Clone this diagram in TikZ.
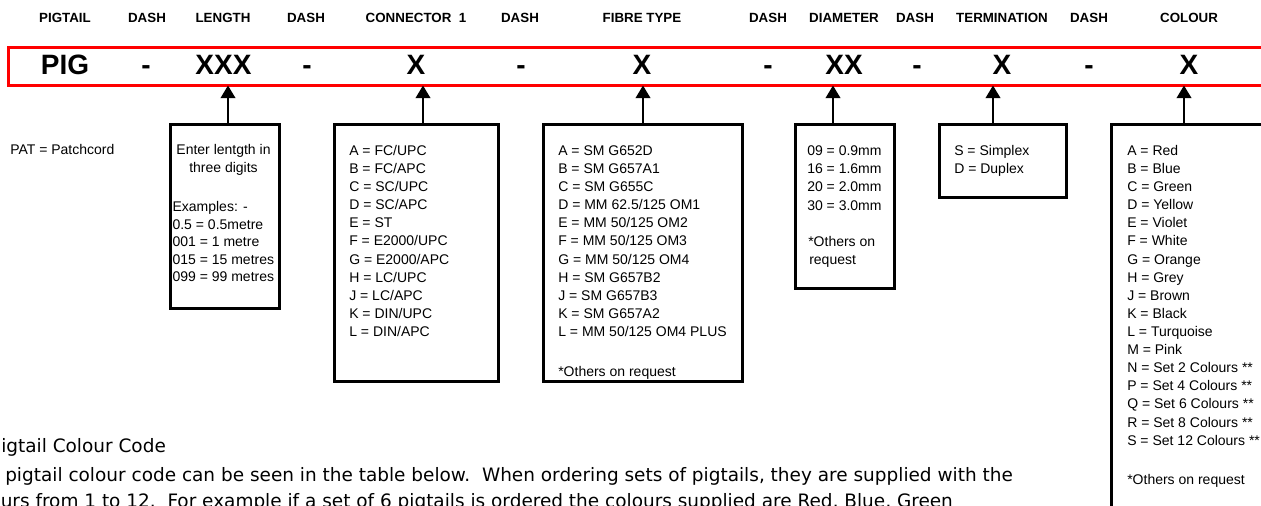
\documentclass[tikz,border=0pt]{standalone}
\usepackage{fontspec}
\setmainfont{Liberation Sans}
\newfontfamily\dvfont{DejaVu Sans}
\usetikzlibrary{arrows.meta}
\begin{document}
\begin{tikzpicture}[x=0.75pt,y=-0.75pt,
  hdr/.style={font=\bfseries\fontsize{10}{12}\selectfont, inner sep=0pt, anchor=base},
  codetxt/.style={font=\bfseries\fontsize{21}{24}\selectfont, inner sep=0pt, anchor=base},
  box/.style={draw, line width=2pt, anchor=north west, inner sep=0pt},
  body/.style={font=\fontsize{10.5}{13.6}\selectfont, inner sep=0pt, anchor=base west},
  bodyc/.style={font=\fontsize{10.5}{13.6}\selectfont, inner sep=0pt, anchor=base},
  arr/.style={line width=1.5pt, -{Triangle[width=11pt,length=9.5pt]}},
  para/.style={font=\dvfont\fontsize{13.85}{16}\selectfont, inner sep=0pt, anchor=base west}
]
\useasboundingbox (0,0) rectangle (1261,506);
\clip (0,0) rectangle (1261,506);

% header labels
\node[hdr] (h1) at (65,23) {PIGTAIL};
\node[hdr] (h2) at (147,23) {DASH};
\node[hdr] (h3) at (223,23) {LENGTH};
\node[hdr] (h4) at (306,23) {DASH};
\node[hdr] (h5) at (416,23) {CONNECTOR\ \ 1};
\node[hdr] (h6) at (520,23) {DASH};
\node[hdr] (h7) at (642,23) {FIBRE TYPE};
\node[hdr] (h8) at (768,23) {DASH};
\node[hdr] (h9) at (844,23) {DIAMETER};
\node[hdr] (h10) at (915,23) {DASH};
\node[hdr] (h11) at (1002,23) {TERMINATION};
\node[hdr] (h12) at (1089,23) {DASH};
\node[hdr] (h13) at (1189,23) {COLOUR};

% red code bar
\node[draw=red, line width=2.25pt, anchor=north west, inner sep=0pt,
      minimum width=951pt, minimum height=28.5pt] (code) at (7,46) {};
\node[codetxt] (c1) at (65,75) {PIG};
\node[codetxt] (c2) at (146,75) {-};
\node[codetxt] (c3) at (223.5,75) {XXX};
\node[codetxt] (c4) at (307,75) {-};
\node[codetxt] (c5) at (416,75) {X};
\node[codetxt] (c6) at (521,75) {-};
\node[codetxt] (c7) at (642,75) {X};
\node[codetxt] (c8) at (768,75) {-};
\node[codetxt] (c9) at (844,75) {XX};
\node[codetxt] (c10) at (917,75) {-};
\node[codetxt] (c11) at (1002,75) {X};
\node[codetxt] (c12) at (1089,75) {-};
\node[codetxt] (c13) at (1189,75) {X};

% boxes
\node[box, minimum width=81.75pt, minimum height=138pt] (bLen) at (169,123) {};
\node[box, minimum width=123pt, minimum height=192.75pt] (bCon) at (333,123) {};
\node[box, minimum width=149.25pt, minimum height=192.75pt] (bFib) at (542,123) {};
\node[box, minimum width=74.25pt, minimum height=123pt] (bDia) at (794,123) {};
\node[box, minimum width=95.25pt, minimum height=54.75pt] (bTer) at (938,123) {};
\node[box, minimum width=135pt, minimum height=315pt] (bCol) at (1110,123) {};

% arrow targets on the bar
\coordinate (pLen) at (228,85.5);
\coordinate (pCon) at (423,85.5);
\coordinate (pFib) at (643,85.5);
\coordinate (pDia) at (833,85.5);
\coordinate (pTer) at (993,85.5);
\coordinate (pCol) at (1184,85.5);
\draw[arr] (bLen.north -| pLen) -- (pLen);
\draw[arr] (bCon.north -| pCon) -- (pCon);
\draw[arr] (bFib.north -| pFib) -- (pFib);
\draw[arr] (bDia.north -| pDia) -- (pDia);
\draw[arr] (bTer.north -| pTer) -- (pTer);
\draw[arr] (bCol.north -| pCol) -- (pCol);

% left text
\node[body] (pat) at (10,155) {PAT = Patchcord};

% length box
\node[bodyc] (len1) at (223.5,154.5) {Enter lentgth in};
\node[bodyc] (len2) at (223.5,172.5) {three digits};
\foreach \t [count=\i from 0] in {Examples: -, 0.5 = 0.5metre, 001 = 1 metre, 015 = 15 metres, 099 = 99 metres}
  \node[body] (lenx\i) at (172.3,211.7+17.5*\i) {\t};

% connector box
\foreach \t [count=\i from 0] in {A = FC/UPC, B = FC/APC, C = SC/UPC, D = SC/APC, E = ST, F = E2000/UPC, G = E2000/APC, H = LC/UPC, J = LC/APC, K = DIN/UPC, L = DIN/APC}
  \node[body] (con\i) at (349,155.5+18.1*\i) {\t};

% fibre box
\foreach \t [count=\i from 0] in {A = SM G652D, B = SM G657A1, C = SM G655C, D = MM 62.5/125 OM1, E = MM 50/125 OM2, F = MM 50/125 OM3, G = MM 50/125 OM4, H = SM G657B2, J = SM G657B3, K = SM G657A2, L = MM 50/125 OM4 PLUS}
  \node[body] (fib\i) at (558,155.5+18.1*\i) {\t};
\node[body] (fibo) at (558,376.5) {*Others on request};

% diameter box
\node[body] (dia0) at (807,155.5) {09 = 0.9mm};
\node[body] (dia1) at (807,173.6) {16 = 1.6mm};
\node[body] (dia2) at (807,191.7) {20 = 2.0mm};
\node[body] (dia3) at (807,210.5) {30 = 3.0mm};
\node[body] (dia4) at (808,246.5) {*Others on};
\node[body] (dia5) at (809,264.3) {request};

% termination box
\node[body] (ter0) at (954,155.5) {S = Simplex};
\node[body] (ter1) at (954,173.6) {D = Duplex};

% colour box
\foreach \t [count=\i from 0] in {A = Red, B = Blue, C = Green, D = Yellow, E = Violet, F = White, G = Orange, H = Grey, J = Brown, K = Black, L = Turquoise, M = Pink, N = Set 2 Colours **, P = Set 4 Colours **, Q = Set 6 Colours **, R = Set 8 Colours **, S = Set 12 Colours **}
  \node[body] (col\i) at (1127,155.5+18.1*\i) {\t};
\node[body] (colo) at (1127,484) {*Others on request};

% paragraph at bottom
\node[para] (ph) at (1,452.7) {igtail Colour Code};
\node[para] (pl2) at (5,481.7) {pigtail colour code can be seen in the table below.\ \ When ordering sets of pigtails, they are supplied with the};
\node[para] (pl3) at (0.5,507) {urs from 1 to 12.\ \ For example if a set of 6 pigtails is ordered the colours supplied are Red, Blue, Green};
\end{tikzpicture}
\end{document}
